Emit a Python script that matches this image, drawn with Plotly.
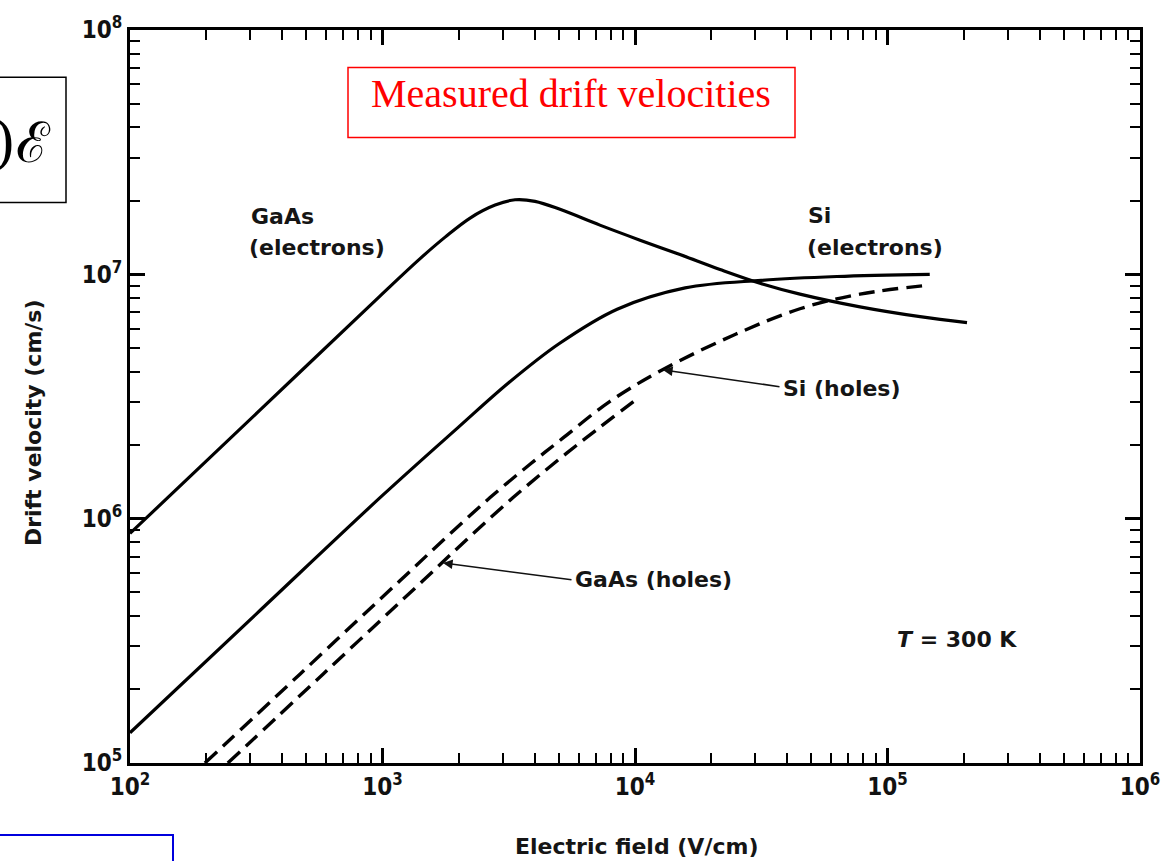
import plotly.graph_objects as go

# ---- data (electric field in V/cm, drift velocity in cm/s) ----
gaas_e_field = [100, 327, 977, 1409, 1770, 2223, 2793, 3350, 4018, 5047, 7260, 10470,
                15070, 21710, 31260, 45000, 77800, 134600, 206500]
gaas_e_vel = [8.7e5, 2.78e6, 8.15e6, 1.16e7, 1.42e7, 1.70e7, 1.92e7, 2.02e7, 1.99e7, 1.845e7, 1.59e7, 1.38e7,
              1.205e7, 1.047e7, 9.2e6, 8.3e6, 7.36e6, 6.71e6, 6.34e6]

si_e_field = [100, 316, 1000, 2000, 3160, 5000, 8500, 15800, 31600, 63000, 147000]
si_e_vel = [1.33e5, 4.07e5, 1.245e6, 2.37e6, 3.6e6, 5.2e6, 7.2e6, 8.8e6, 9.45e6, 9.8e6, 1.0e7]

si_h_field = [198, 471, 1172, 1770, 2667, 3838, 5190, 7960, 12800, 24400, 45000, 77800, 147000]
si_h_vel = [1.0e5, 2.31e5, 5.57e5, 8.3e5, 1.22e6, 1.67e6, 2.14e6, 3.02e6, 4.06e6, 5.62e6, 7.23e6, 8.3e6, 9.04e6]

gaas_h_field = [244, 581, 1445, 2180, 3290, 4730, 6400, 10470]
gaas_h_vel = [1.0e5, 2.31e5, 5.57e5, 8.3e5, 1.22e6, 1.67e6, 2.14e6, 3.16e6]

x_tick_vals = [1e2, 1e3, 1e4, 1e5, 1e6]
x_tick_text = ["10<sup>2</sup>", "10<sup>3</sup>", "10<sup>4</sup>", "10<sup>5</sup>", "10<sup>6</sup>"]
y_tick_vals = [1e5, 1e6, 1e7, 1e8]
y_tick_text = ["10<sup>5</sup>", "10<sup>6</sup>", "10<sup>7</sup>", "10<sup>8</sup>"]

# ---- layout geometry (pixels) ----
W, H = 1174, 861
L, R, T, B = 130, 1140, 19, 763


def px(x):
    return (x - L) / (R - L)


def py(y):
    return (B - y) / (B - T)


TICKFONT = "DejaVu Sans Condensed, Liberation Sans Narrow, sans-serif"
FONT = "DejaVu Sans, Liberation Sans, sans-serif"

fig = go.Figure()
solid = dict(color="black", width=3.2, shape="spline", smoothing=1.0)
dashed = dict(color="black", width=3.4, shape="spline", smoothing=1.0, dash="16px,8px")

fig.add_trace(go.Scatter(x=gaas_e_field, y=gaas_e_vel, mode="lines", line=solid, name="GaAs (electrons)"))
fig.add_trace(go.Scatter(x=si_e_field, y=si_e_vel, mode="lines", line=solid, name="Si (electrons)"))
fig.add_trace(go.Scatter(x=si_h_field, y=si_h_vel, mode="lines", line=dashed, name="Si (holes)"))
fig.add_trace(go.Scatter(x=gaas_h_field, y=gaas_h_vel, mode="lines", line=dashed, name="GaAs (holes)"))

minor_x = [k * 10 ** e for e in range(2, 6) for k in range(2, 10)]
minor_y = [k * 10 ** e for e in range(5, 8) for k in range(2, 10)]

axis_common = dict(
    showgrid=False, zeroline=False, showline=True, linecolor="black", linewidth=3,
    mirror="ticks", ticks="inside", ticklen=15, tickwidth=2.5, tickcolor="black",
    tickfont=dict(family=TICKFONT, size=24, color="#111", weight="bold"),
)

fig.update_xaxes(
    type="log", range=[2, 6], tickvals=x_tick_vals, ticktext=x_tick_text,
    minor=dict(tickvals=minor_x, ticks="inside", ticklen=10, tickwidth=2, tickcolor="black"),
    **axis_common,
)
fig.update_yaxes(
    type="log", range=[5, 8], tickvals=y_tick_vals, ticktext=y_tick_text,
    minor=dict(tickvals=minor_y, ticks="inside", ticklen=10, tickwidth=2, tickcolor="black"),
    **axis_common,
)

lab = dict(family=FONT, size=22, color="#151515", weight="bold")
ann = []


def text(x, y, s, size=22, xanchor="left", **kw):
    f = dict(lab)
    f["size"] = size
    ann.append(dict(x=px(x), y=py(y), xref="paper", yref="paper", text=s, showarrow=False,
                    xanchor=xanchor, yanchor="middle", font=f, **kw))


text(249, 208, "GaAs")
text(247, 240, "(electrons)")
text(806, 207, "Si")
text(805, 240, "(electrons)")
text(781, 383, "Si (holes)")
text(573, 577, "GaAs (holes)")
text(895, 638, "<i>T</i> = 300 K", size=22)


def arrow(hx, hy, tx, ty):
    ann.append(dict(x=px(hx), y=py(hy), xref="paper", yref="paper", text="", showarrow=True,
                    ax=tx - hx, ay=ty - hy, axref="pixel", ayref="pixel",
                    arrowhead=2, arrowsize=1.2, arrowwidth=1.6, arrowcolor="#111"))


arrow(663, 364, 781, 381)
arrow(443, 560, 573, 577)

# axis titles
ann.append(dict(x=px(636), y=py(848), xref="paper", yref="paper", text="Electric field (V/cm)",
                showarrow=False, xanchor="center", yanchor="middle",
                font=dict(family=FONT, size=22, color="#151515", weight="bold")))
ann.append(dict(x=px(33), y=py(418), xref="paper", yref="paper", text="Drift velocity (cm/s)",
                showarrow=False, xanchor="center", yanchor="middle", textangle=-90,
                font=dict(family=FONT, size=22, color="#151515", weight="bold")))

# red title box text
ann.append(dict(x=px(571), y=py(83), xref="paper", yref="paper", text="Measured drift velocities",
                showarrow=False, xanchor="center", yanchor="middle",
                font=dict(family="Liberation Serif, serif", size=40, color="#ff0000")))
# left boxed fragment
ann.append(dict(x=px(53), y=py(133), xref="paper", yref="paper", text=")\u2130",
                showarrow=False, xanchor="right", yanchor="middle",
                font=dict(family="DejaVu Serif, serif", size=56, color="black")))

shapes = [
    dict(type="rect", xref="paper", yref="paper", x0=px(348), x1=px(795), y0=py(57), y1=py(128),
         line=dict(color="#ff0000", width=1.5)),
    dict(type="rect", xref="paper", yref="paper", x0=px(-5), x1=px(66), y0=py(67), y1=py(194),
         line=dict(color="black", width=1.5)),
    dict(type="rect", xref="paper", yref="paper", x0=px(-5), x1=px(173), y0=py(836), y1=py(880),
         line=dict(color="#0000dd", width=2)),
]

fig.update_layout(
    width=W, height=H, margin=dict(l=L, r=W - R, t=T, b=H - B),
    paper_bgcolor="white", plot_bgcolor="white", showlegend=False,
    annotations=ann, shapes=shapes,
)

fig.write_html("out.html")
